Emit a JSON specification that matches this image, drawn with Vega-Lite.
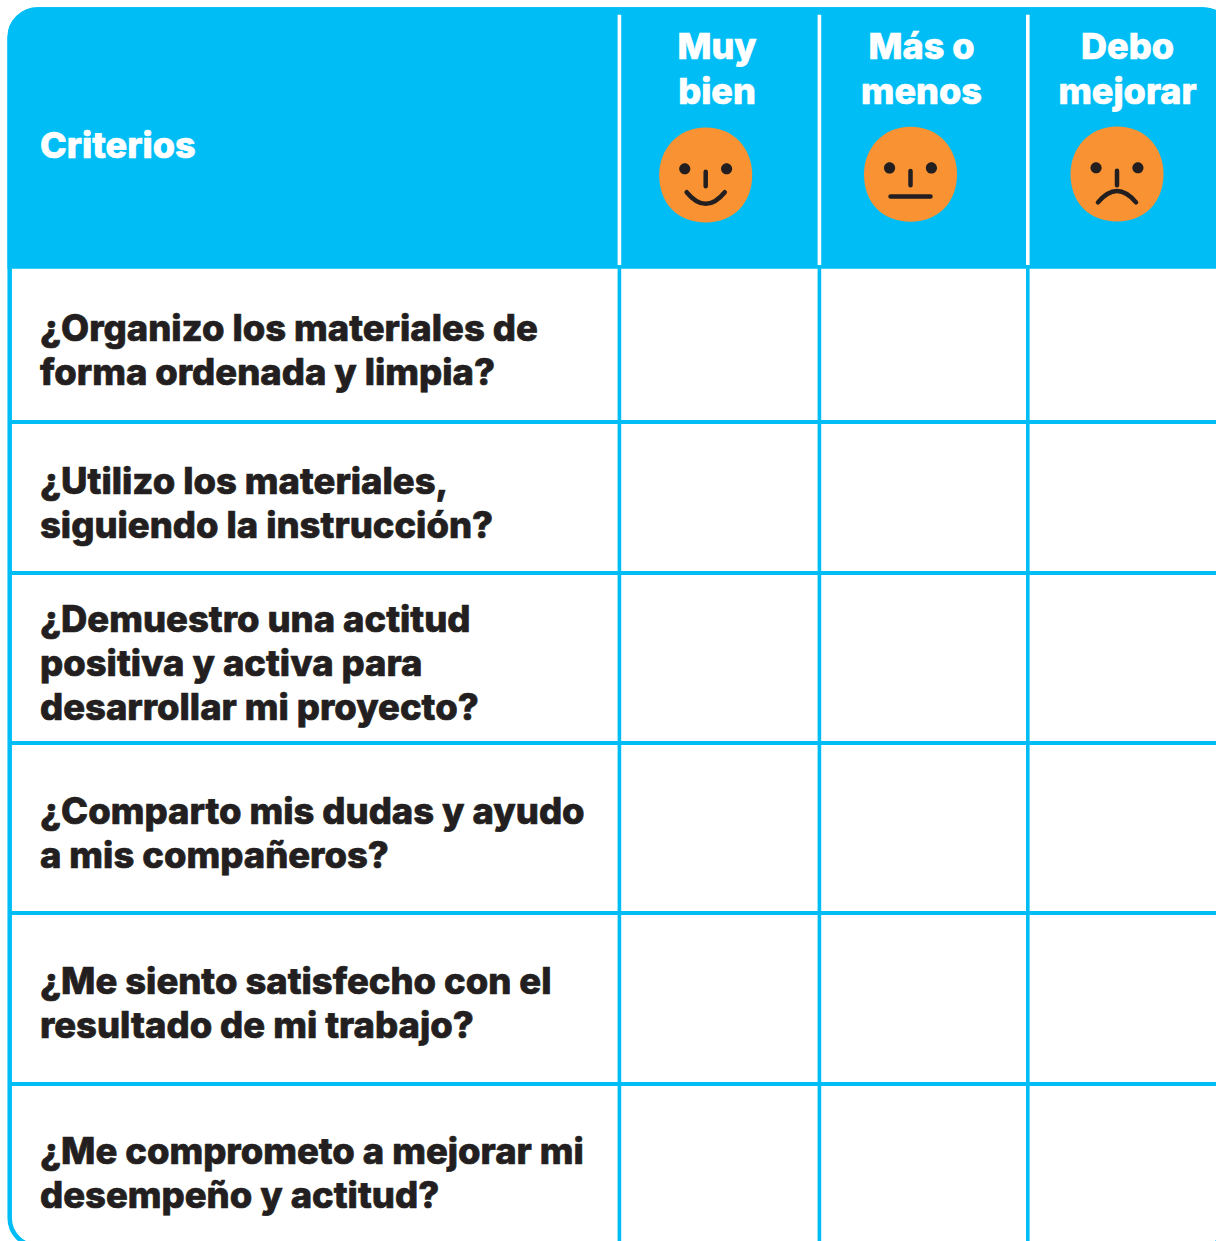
{
"$schema":"https://vega.github.io/schema/vega-lite/v6.json",
"width":1216,"height":1241,"padding":0,"autosize":{"type":"none"},"background":"white",
"config":{"view":{"stroke":null}},
"datasets":{
"tabla":[{"col_ini":0,"col_fin":4,"fila_ini":0,"fila_fin":7}],
"cabecera":[{"col_ini":0,"col_fin":4,"fila_ini":0,"fila_fin":1}],
"horizontales":[{"col_ini":0,"col_fin":4,"fila":2},{"col_ini":0,"col_fin":4,"fila":3},{"col_ini":0,"col_fin":4,"fila":4},{"col_ini":0,"col_fin":4,"fila":5},{"col_ini":0,"col_fin":4,"fila":6}],
"verticales":[{"col":1,"fila_ini":1,"fila_fin":7},{"col":2,"fila_ini":1,"fila_fin":7},{"col":3,"fila_ini":1,"fila_fin":7}],
"separadores":[{"col":1,"fila_ini":0,"fila_fin":1},{"col":2,"fila_ini":0,"fila_fin":1},{"col":3,"fila_ini":0,"fila_fin":1}],
"criterios":[
{"fila":1,"texto":"¿Organizo los materiales de\nforma ordenada y limpia?"},
{"fila":2,"texto":"¿Utilizo los materiales,\nsiguiendo la instrucción?"},
{"fila":3,"texto":"¿Demuestro una actitud\npositiva y activa para\ndesarrollar mi proyecto?"},
{"fila":4,"texto":"¿Comparto mis dudas y ayudo\na mis compañeros?"},
{"fila":5,"texto":"¿Me siento satisfecho con el\nresultado de mi trabajo?"},
{"fila":6,"texto":"¿Me comprometo a mejorar mi\ndesempeño y actitud?"}],
"titulo":[{"fila":0,"texto":"Criterios"}],
"columnas":[{"col":1,"texto":"Muy\nbien"},{"col":2,"texto":"Más o\nmenos"},{"col":3,"texto":"Debo\nmejorar"}],
"caras":[{"col":1,"cara":"Muy bien"},{"col":2,"cara":"Más o menos"},{"col":3,"cara":"Debo mejorar"}]
},
"resolve":{"scale":{"x":"independent","y":"independent"}},
"layer":[
{"data":{"name":"tabla"},
 "mark":{"type":"rect","fill":"white","stroke":"#00BEF5","strokeWidth":4.5,"cornerRadius":28},
 "encoding":{
  "x":{"field":"col_ini","type":"quantitative","axis":null,"scale":{"domain":[0,4],"range":[9.7,1231]}},
  "x2":{"field":"col_fin"},
  "y":{"field":"fila_ini","type":"quantitative","axis":null,"scale":{"domain":[0,7],"range":[9.5,1246]}},
  "y2":{"field":"fila_fin"}}},
{"data":{"name":"horizontales"},
 "mark":{"type":"rule","stroke":"#00BEF5","strokeWidth":4},
 "encoding":{
  "x":{"field":"col_ini","type":"quantitative","axis":null,"scale":{"domain":[0,4],"range":[9.7,1231]}},
  "x2":{"field":"col_fin"},
  "y":{"field":"fila","type":"quantitative","axis":null,"scale":{"domain":[2,3,4,5,6],"range":[422,573,743,913,1084]}}}},
{"data":{"name":"verticales"},
 "mark":{"type":"rule","stroke":"#00BEF5","strokeWidth":3.6},
 "encoding":{
  "x":{"field":"col","type":"quantitative","axis":null,"scale":{"domain":[1,2,3],"range":[619.4,819.4,1027.8]}},
  "y":{"field":"fila_ini","type":"quantitative","axis":null,"scale":{"domain":[1,7],"range":[266,1246]}},
  "y2":{"field":"fila_fin"}}},
{"data":{"name":"cabecera"},
 "mark":{"type":"rect","fill":"#00BEF5","stroke":"#00BEF5","strokeWidth":4.5,"cornerRadiusTopLeft":28,"cornerRadiusTopRight":28},
 "encoding":{
  "x":{"field":"col_ini","type":"quantitative","axis":null,"scale":{"domain":[0,4],"range":[9.7,1231]}},
  "x2":{"field":"col_fin"},
  "y":{"field":"fila_ini","type":"quantitative","axis":null,"scale":{"domain":[0,1],"range":[9.5,266.5]}},
  "y2":{"field":"fila_fin"}}},
{"data":{"name":"separadores"},
 "mark":{"type":"rule","stroke":"white","strokeWidth":3.6},
 "encoding":{
  "x":{"field":"col","type":"quantitative","axis":null,"scale":{"domain":[1,2,3],"range":[619.4,819.4,1027.8]}},
  "y":{"field":"fila_ini","type":"quantitative","axis":null,"scale":{"domain":[0,1],"range":[14.7,265]}},
  "y2":{"field":"fila_fin"}}},
{"data":{"name":"caras"},
 "mark":{"type":"point","filled":true,"fill":"#F99232","stroke":null,"opacity":1,"size":8649,"shape":"M0,-1.02C0.62,-1.02 1,-0.55 1,0C1,0.6 0.6,1.02 0,1.02C-0.6,1.02 -1,0.62 -1,0C-1,-0.55 -0.6,-1.02 0,-1.02Z"},
 "encoding":{
  "x":{"field":"col","type":"quantitative","axis":null,"scale":{"domain":[1,2,3],"range":[705.7,910.5,1117]}},
  "y":{"field":"col","type":"quantitative","axis":null,"scale":{"domain":[1,2,3],"range":[175,174.2,174]}}}},
{"data":{"name":"caras"},
 "mark":{"type":"point","filled":true,"fill":"#231F20","stroke":null,"opacity":1,"size":8649,"shape":"M-0.33,-0.135A0.12,0.12 0 1 1 -0.57,-0.135A0.12,0.12 0 1 1 -0.33,-0.135ZM0.57,-0.135A0.12,0.12 0 1 1 0.33,-0.135A0.12,0.12 0 1 1 0.57,-0.135Z"},
 "encoding":{
  "x":{"field":"col","type":"quantitative","axis":null,"scale":{"domain":[1,2,3],"range":[705.7,910.5,1117]}},
  "y":{"field":"col","type":"quantitative","axis":null,"scale":{"domain":[1,2,3],"range":[175,174.2,174]}}}},
{"data":{"name":"caras"},
 "mark":{"type":"point","filled":false,"fill":null,"stroke":"#231F20","strokeWidth":4.5,"strokeCap":"round","opacity":1,"size":8649},
 "encoding":{
  "x":{"field":"col","type":"quantitative","axis":null,"scale":{"domain":[1,2,3],"range":[705.7,910.5,1117]}},
  "y":{"field":"col","type":"quantitative","axis":null,"scale":{"domain":[1,2,3],"range":[175,174.2,174]}},
  "shape":{"field":"cara","type":"nominal","legend":null,"scale":{"domain":["Muy bien","Más o menos","Debo mejorar"],"range":[
    "M0,-0.07L0,0.24M-0.41,0.37Q0,0.87 0.41,0.37",
    "M0,-0.07L0,0.24M-0.43,0.48L0.43,0.48",
    "M0,-0.07L0,0.24M-0.41,0.61Q0,0.12 0.41,0.61"]}}}},
{"data":{"name":"titulo"},
 "mark":{"type":"text","align":"left","baseline":"middle","font":"Inter","fontWeight":800,"fontSize":36,"fill":"white","stroke":"white","strokeWidth":0.7,"strokeJoin":"round"},
 "encoding":{
  "x":{"field":"fila","type":"quantitative","axis":null,"scale":{"domain":[0,1],"range":[40,41]}},
  "y":{"field":"fila","type":"quantitative","axis":null,"scale":{"domain":[0,1],"range":[147,148]}},
  "text":{"field":"texto"}}},
{"data":{"name":"columnas"},
 "mark":{"type":"text","align":"center","baseline":"middle","font":"Inter","fontWeight":800,"fontSize":36,"lineHeight":45,"lineBreak":"\n","fill":"white","stroke":"white","strokeWidth":0.7,"strokeJoin":"round"},
 "encoding":{
  "x":{"field":"col","type":"quantitative","axis":null,"scale":{"domain":[1,2,3],"range":[717,921.5,1127.5]}},
  "y":{"field":"col","type":"quantitative","axis":null,"scale":{"domain":[1,3],"range":[48,48]}},
  "text":{"field":"texto"}}},
{"data":{"name":"criterios"},
 "mark":{"type":"text","align":"left","baseline":"middle","font":"Inter","fontWeight":800,"fontSize":36.4,"lineHeight":44.2,"lineBreak":"\n","fill":"#231F20","stroke":"#231F20","strokeWidth":0.7,"strokeJoin":"round"},
 "encoding":{
  "x":{"field":"fila","type":"quantitative","axis":null,"scale":{"domain":[1,6],"range":[40,40]}},
  "y":{"field":"fila","type":"quantitative","axis":null,"scale":{"domain":[1,2,3,4,5,6],"range":[330,483,621,813,983,1153]}},
  "text":{"field":"texto"}}}
]
}
